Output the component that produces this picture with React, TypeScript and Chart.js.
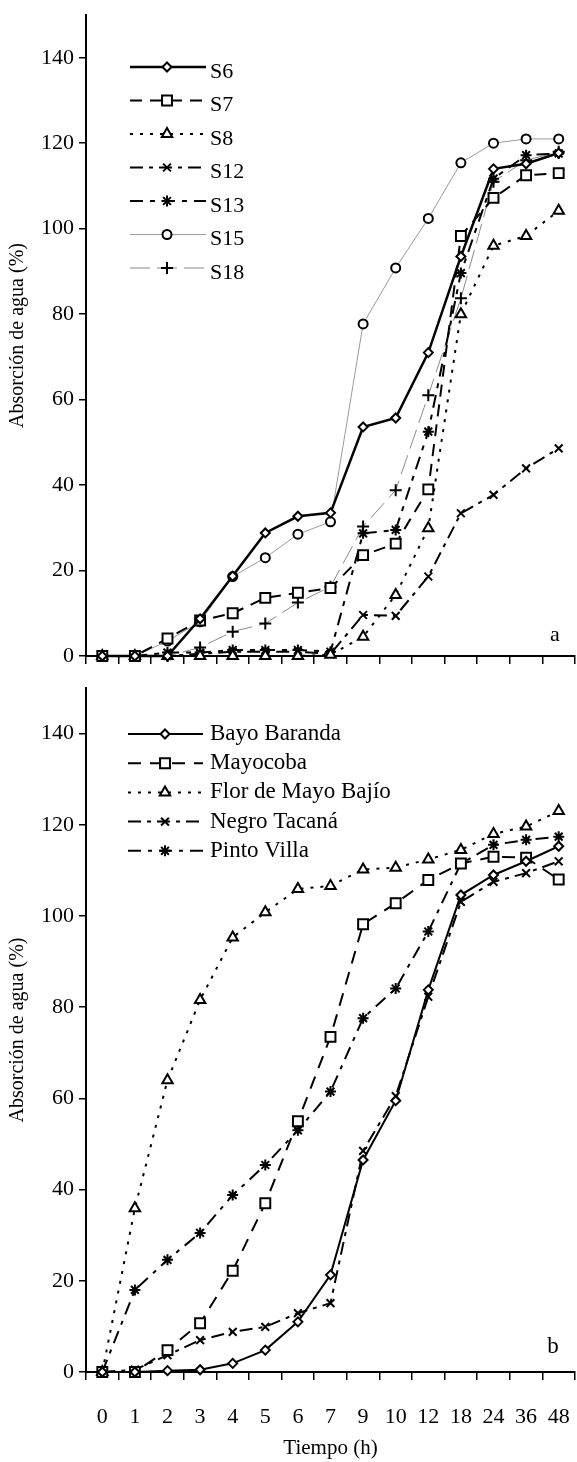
import React, { useEffect, useRef } from 'react';
import { Chart, registerables } from 'chart.js';
import { drawPoint } from 'chart.js/helpers';

Chart.register(...registerables);

const FONT = "'Liberation Serif', 'Times New Roman', serif";

// Shared x categories (hours)
const categories = ['0', '1', '2', '3', '4', '5', '6', '7', '9', '10', '12', '18', '24', '36', '48'];
const yTicks = [0, 20, 40, 60, 80, 100, 120, 140];

// Panel a
const topLabels = ['S6', 'S7', 'S8', 'S12', 'S13', 'S15', 'S18'];
const s6 = [0, 0, 0, 8.7, 18.7, 28.8, 32.7, 33.5, 53.6, 55.7, 71, 93.5, 114, 115.2, 117.7];
const s7 = [0, 0, 4.1, 8.3, 10, 13.6, 14.8, 15.9, 23.6, 26.3, 39, 98.3, 107.2, 112.5, 113];
const s8 = [0, 0, 0, 0, 0, 0, 0, 0.3, 4.5, 14.3, 29.9, 80, 96, 98.3, 104.2];
const s12 = [0, 0, 0, 0.5, 1, 1, 1, 0.5, 9.6, 9.4, 18.6, 33.4, 37.7, 43.9, 48.6];
const s13 = [0, 0, 0.8, 0.8, 1.4, 1.4, 1.4, 1, 28.7, 29.5, 52.5, 89.6, 111.7, 117.2, 117.6];
const s15 = [0, 0, 3.5, 8, 18.6, 23, 28.5, 31.4, 77.7, 90.8, 102.4, 115.4, 120, 121, 121];
const s18 = [0, 0, 0, 2, 5.7, 7.6, 12.5, 16.2, 30.3, 38.8, 61, 83.7, 111, 116, 118];

// Panel b
const bottomLabels = ['Bayo Baranda', 'Mayocoba', 'Flor de Mayo Bajío', 'Negro Tacaná', 'Pinto Villa'];
const bayo = [0, 0, 0.3, 0.5, 1.9, 4.8, 11, 21.3, 46.5, 59.5, 83.8, 104.6, 109, 112, 115.3];
const mayocoba = [0, 0, 4.8, 10.7, 22.2, 37, 55, 73.5, 98.2, 102.8, 107.9, 111.5, 113, 112.8, 108];
const flor = [0, 35.9, 64, 81.6, 95.3, 100.8, 105.9, 106.6, 110.2, 110.6, 112.4, 114.5, 118, 119.6, 123];
const negro = [0, 0.5, 3.7, 7, 8.8, 9.9, 12.9, 15.1, 48.5, 60.5, 82.3, 103.1, 107.5, 109.4, 112];
const pinto = [0, 18, 24.6, 30.5, 38.8, 45.4, 53, 61.5, 77.6, 84.1, 96.6, 111.5, 115.6, 116.7, 117.4];

type Style = {
  color: string;
  width: number;
  dash: number[];
  point: string;
  r: number;
};

const topStyles: Style[] = [
  { color: '#000', width: 2.5, dash: [], point: 'rectRot', r: 4.5 },
  { color: '#000', width: 2, dash: [12, 8], point: 'rect', r: 7 },
  { color: '#000', width: 2, dash: [3, 7], point: 'triangle', r: 6 },
  { color: '#000', width: 2, dash: [13, 6, 4, 6], point: 'crossRot', r: 5.5 },
  { color: '#000', width: 2, dash: [13, 7, 5, 7], point: 'star', r: 5.5 },
  { color: '#9a9a9a', width: 1, dash: [], point: 'circle', r: 4.5 },
  { color: '#8a8a8a', width: 1, dash: [20, 7], point: 'cross', r: 6 },
];

const bottomStyles: Style[] = [
  { color: '#000', width: 2, dash: [], point: 'rectRot', r: 4.5 },
  { color: '#000', width: 2, dash: [13, 9], point: 'rect', r: 7 },
  { color: '#000', width: 2, dash: [3, 7], point: 'triangle', r: 6 },
  { color: '#000', width: 2, dash: [13, 6, 4, 6], point: 'crossRot', r: 5.5 },
  { color: '#000', width: 2, dash: [13, 7, 4, 7], point: 'star', r: 5.5 },
];

function makeDatasets(labels: string[], series: number[][], styles: Style[]) {
  return labels.map((label, i) => {
    const s = styles[i];
    return {
      label,
      data: series[i],
      borderColor: s.color,
      borderWidth: s.width,
      borderDash: s.dash,
      pointStyle: s.point,
      pointRadius: s.r,
      pointBorderWidth: 2,
      pointBorderColor: '#000',
      pointBackgroundColor: '#fff',
      tension: 0,
      fill: false,
      clip: false,
    };
  });
}

const figLegend = {
  id: 'figLegend',
  afterDatasetsDraw(chart: any, _args: any, opts: any) {
    const ctx = chart.ctx as CanvasRenderingContext2D;
    ctx.save();
    chart.data.datasets.forEach((ds: any, i: number) => {
      const y = opts.y0 + i * opts.dy;
      ctx.lineWidth = ds.borderWidth;
      ctx.strokeStyle = ds.borderColor;
      ctx.setLineDash(ds.borderDash || []);
      ctx.beginPath();
      ctx.moveTo(opts.x0, y);
      ctx.lineTo(opts.x1, y);
      ctx.stroke();
      ctx.setLineDash([]);
      ctx.fillStyle = '#fff';
      ctx.strokeStyle = '#000';
      ctx.lineWidth = ds.pointBorderWidth;
      drawPoint(ctx, { pointStyle: ds.pointStyle, radius: ds.pointRadius, rotation: 0, borderWidth: ds.pointBorderWidth } as any, opts.mx, y);
      ctx.fillStyle = '#000';
      ctx.font = `${opts.fontSize}px ${FONT}`;
      ctx.textBaseline = 'middle';
      ctx.textAlign = 'left';
      ctx.fillText(ds.label, opts.tx, y + opts.tdy);
    });
    ctx.font = `${opts.fontSize}px ${FONT}`;
    ctx.textAlign = 'center';
    ctx.textBaseline = 'middle';
    ctx.fillStyle = '#000';
    ctx.fillText(opts.letter, opts.lx, opts.ly);
    ctx.restore();
  },
};

function makeOptions(showX: boolean, xHeight: number, padTop: number, legend: any) {
  return {
    responsive: false,
    animation: false as const,
    layout: { autoPadding: false, padding: { top: padTop, right: 2, bottom: 0, left: 0 } },
    plugins: {
      legend: { display: false },
      tooltip: { enabled: false },
      figLegend: legend,
    },
    scales: {
      x: {
        type: 'category' as const,
        offset: true,
        grid: { offset: true, drawOnChartArea: false, drawTicks: true, tickLength: 8, color: '#000', lineWidth: 1.5 },
        border: { color: '#000', width: 2 },
        ticks: { display: showX, color: '#000', padding: 24, maxRotation: 0, autoSkip: false, font: { family: FONT, size: 22 } },
        title: { display: showX, text: 'Tiempo (h)', color: '#000', font: { family: FONT, size: 21 }, padding: { top: 0, bottom: 1 } },
        afterFit: (s: any) => {
          s.height = xHeight;
          s.paddingLeft = 0;
          s.paddingRight = 0;
        },
      },
      y: {
        type: 'linear' as const,
        min: 0,
        max: 150,
        ticks: { stepSize: 20, color: '#000', padding: 5, font: { family: FONT, size: 22 } },
        afterBuildTicks: (s: any) => { s.ticks = yTicks.map((v) => ({ value: v })); },
        grid: { drawOnChartArea: false, drawTicks: true, tickLength: 7, color: '#000', lineWidth: 1.5 },
        border: { color: '#000', width: 2 },
        title: { display: true, text: 'Absorción de agua (%)', color: '#000', font: { family: FONT, size: 20 }, padding: { top: 6, bottom: 0 } },
        afterFit: (s: any) => {
          s.width = 86;
          s.paddingTop = 0;
          s.paddingBottom = 0;
        },
      },
    },
  };
}

export default function App() {
  const topRef = useRef<HTMLCanvasElement>(null);
  const botRef = useRef<HTMLCanvasElement>(null);

  useEffect(() => {
    const top = new Chart(topRef.current!, {
      type: 'line',
      data: {
        labels: categories,
        datasets: makeDatasets(topLabels, [s6, s7, s8, s12, s13, s15, s18], topStyles) as any,
      },
      options: makeOptions(false, 24, 15, {
        x0: 130, x1: 206, mx: 167, tx: 210, y0: 67, dy: 33.5, tdy: 5, fontSize: 22,
        letter: 'a', lx: 555, ly: 635,
      }) as any,
      plugins: [figLegend],
    });
    const bot = new Chart(botRef.current!, {
      type: 'line',
      data: {
        labels: categories,
        datasets: makeDatasets(bottomLabels, [bayo, mayocoba, flor, negro, pinto], bottomStyles) as any,
      },
      options: makeOptions(true, 90, 8, {
        x0: 128, x1: 203, mx: 165, tx: 210, y0: 54, dy: 29.2, tdy: 0, fontSize: 23,
        letter: 'b', lx: 553, ly: 667,
      }) as any,
      plugins: [figLegend],
    });
    return () => {
      top.destroy();
      bot.destroy();
    };
  }, []);

  return (
    <div style={{ position: 'absolute', left: 0, top: 0, width: 577, height: 1462, background: '#fff' }}>
      <canvas ref={topRef} width={577} height={680} style={{ position: 'absolute', left: 0, top: 0, display: 'block' }} />
      <canvas ref={botRef} width={577} height={782} style={{ position: 'absolute', left: 0, top: 680, display: 'block' }} />
    </div>
  );
}
